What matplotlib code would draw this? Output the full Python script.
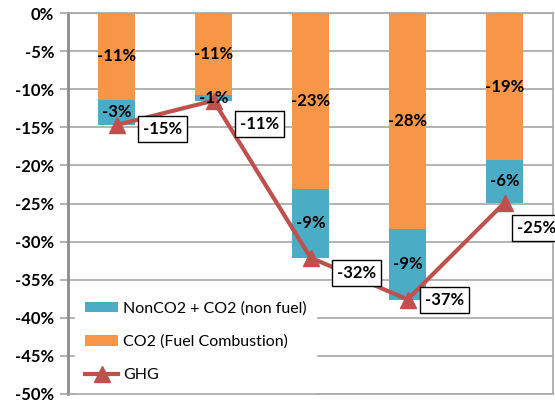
import matplotlib
matplotlib.use("Agg")
import matplotlib.pyplot as plt
import numpy as np

categories = ["1", "2", "3", "4", "5"]
co2_fuel = [-11.4, -10.7, -23.1, -28.4, -19.3]
nonco2 = [-3.3, -0.8, -9.0, -9.2, -5.6]
ghg = [-14.7, -11.5, -32.1, -37.6, -24.9]
co2_labels = ["-11%", "-11%", "-23%", "-28%", "-19%"]
non_labels = ["-3%", "-1%", "-9%", "-9%", "-6%"]
ghg_labels = ["-15%", "-11%", "-32%", "-37%", "-25%"]
ghg_offsets = [(46, -4), (46, -23), (46, -15), (37, 0), (32, -25)]

plt.rcParams['font.family'] = ['Lato', 'DejaVu Sans']

fig = plt.figure(figsize=(5.55, 4.01), dpi=100)
ax = fig.add_axes([68/555, 1-394/401, (553-68)/555, (394-13)/401])

x = np.arange(len(categories))
w = 0.39
orange = '#F79646'
blue = '#4BACC6'
red = '#C0504D'

b1 = ax.bar(x, co2_fuel, w, color=orange, label='CO2 (Fuel Combustion)', zorder=2)
b2 = ax.bar(x, nonco2, w, bottom=co2_fuel, color=blue, label='NonCO2 + CO2 (non fuel)', zorder=2)
ln, = ax.plot(x, ghg, color=red, lw=3, marker='^', markersize=11, label='GHG', zorder=3)

for i in range(len(x)):
    ax.text(x[i], co2_fuel[i]/2, co2_labels[i], ha='center', va='center',
            fontsize=12, fontweight='bold', zorder=4)
    ax.text(x[i], co2_fuel[i] + nonco2[i]/2, non_labels[i], ha='center', va='center',
            fontsize=12, fontweight='bold', zorder=4)
    ax.annotate(ghg_labels[i], (x[i], ghg[i]), xytext=ghg_offsets[i],
                textcoords='offset pixels', ha='center', va='center',
                fontsize=12, fontweight='bold', zorder=5,
                bbox=dict(boxstyle='square,pad=0.3', fc='white', ec='black', lw=1))

ax.set_xlim(-0.5, len(x)-0.5)
ax.set_ylim(-50, 0)
yt = np.arange(-50, 1, 5)
ax.set_yticks(yt)
ax.set_yticklabels([f"{v}%" for v in yt], fontsize=12, fontweight='bold')
ax.set_xticks([])
ax.yaxis.grid(True, color='#A6A6A6', lw=1.2, zorder=0)
ax.set_axisbelow(True)
ax.tick_params(axis='y', length=6, color='#A6A6A6', width=1.2, pad=4)
for s in ax.spines.values():
    s.set_color('#A6A6A6')
    s.set_linewidth(1.2)
ax.spines['left'].set_color('#8C8C8C')
ax.spines['left'].set_linewidth(2)

leg = ax.legend(handles=[b2, b1, ln], loc='lower left', bbox_to_anchor=(0.015, 0.006),
                fontsize=11.5, frameon=True, framealpha=1, edgecolor='white',
                facecolor='white', handlelength=2.1, handleheight=0.65,
                handletextpad=0.3, labelspacing=1.2, borderpad=0.6, borderaxespad=0.0,
                fancybox=False)
leg.set_zorder(6)

fig.savefig('out.png', dpi=100)
